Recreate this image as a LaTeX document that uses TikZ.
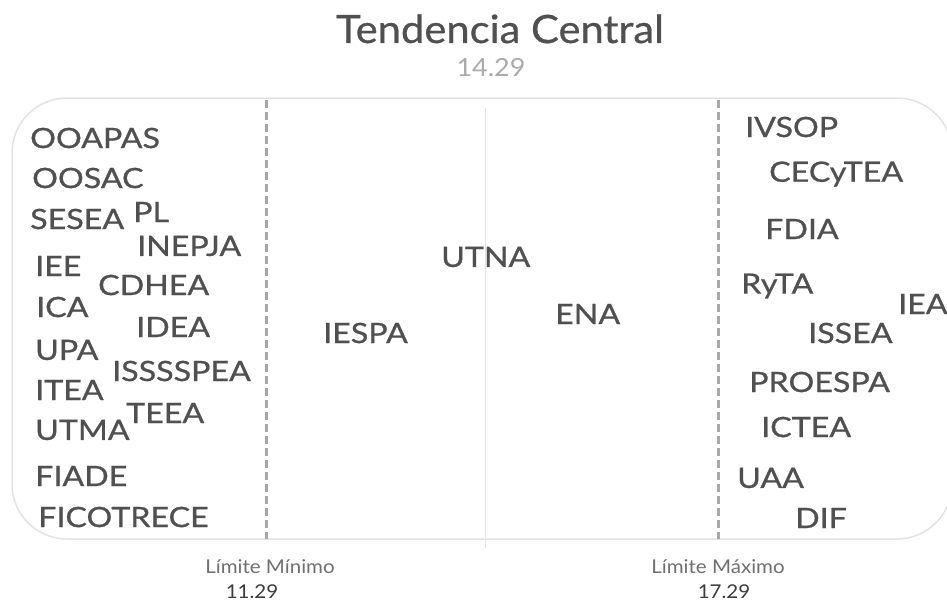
\documentclass[tikz,border=0pt]{standalone}
\usepackage{fontspec}
\setmainfont{Lato}
\newfontfamily\labfont[FakeBold=0.8,FakeStretch=1.15]{Lato}
\newfontfamily\titfont[FakeBold=0.6,FakeStretch=1.07]{Lato}
\newfontfamily\numfont[FakeStretch=1.08]{Lato}
\definecolor{labc}{HTML}{505050}
\definecolor{boxc}{HTML}{E3E3E3}
\definecolor{dashc}{HTML}{A8A8A8}
\definecolor{numc}{HTML}{ABABAB}
\definecolor{limc}{HTML}{707070}
\definecolor{limn}{HTML}{3C3C3C}
\tikzset{
  lab/.style={anchor=west, inner sep=0pt, text=labc, font=\labfont\fontsize{28}{28}\selectfont},
  limline/.style={dashc, line width=3pt, dash pattern=on 8pt off 4pt},
  limtxt/.style={anchor=base, inner sep=0pt, text=limc, font=\numfont\fontsize{19}{19}\selectfont},
  limnum/.style={anchor=base, inner sep=0pt, text=limn, font=\numfont\fontsize{19}{19}\selectfont},
}
\begin{document}
\begin{tikzpicture}[x=1pt,y=-1pt]
\useasboundingbox (0,0) rectangle (947,602);
\fill[white] (0,0) rectangle (947,602);
% frame
\draw[boxc, line width=1.5pt, rounded corners=55pt] (12,98) rectangle (952,539);
% centre line
\coordinate (ct) at (485,108);
\coordinate (cb) at (485,548);
\draw[boxc, line width=1pt] (ct) -- (cb);
% limit lines
\coordinate (lt) at (266,100);
\coordinate (lb) at (266,539);
\coordinate (rt) at (718,100);
\coordinate (rb) at (718,539);
\draw[limline] (lt) -- (lb);
\draw[limline] (rt) -- (rb);
% title
\node[anchor=base, inner sep=0pt, text=labc, font=\titfont\fontsize{39}{39}\selectfont] (title) at (500,43) {Tendencia Central};
\node[anchor=base, inner sep=0pt, text=numc, font=\numfont\fontsize{25}{25}\selectfont] (tc) at (491,77) {14.29};
% limit labels
\node[limtxt] (lmin) at (270,573) {Límite Mínimo};
\node[limnum] (lminv) at (252,598) {11.29};
\node[limtxt] (lmax) at (718,573) {Límite Máximo};
\node[limnum] (lmaxv) at (724,598) {17.29};
% left group
\node[lab] (n1) at (30,138) {OOAPAS};
\node[lab] (n2) at (32,178) {OOSAC};
\node[lab] (n3) at (30,219) {SESEA};
\node[lab] (n4) at (133,212) {PL};
\node[lab] (n5) at (137,246) {INEPJA};
\node[lab] (n6) at (35,266) {IEE};
\node[lab] (n7) at (98,285) {CDHEA};
\node[lab] (n8) at (36,307) {ICA};
\node[lab] (n9) at (136,327) {IDEA};
\node[lab] (n10) at (35,350) {UPA};
\node[lab] (n11) at (112,371) {ISSSSPEA};
\node[lab] (n12) at (35,390) {ITEA};
\node[lab] (n13) at (126,413) {TEEA};
\node[lab] (n14) at (35,430) {UTMA};
\node[lab] (n15) at (35,476) {FIADE};
\node[lab] (n16) at (38,517) {FICOTRECE};
% middle
\node[lab] (m1) at (441,257) {UTNA};
\node[lab] (m2) at (323,333) {IESPA};
\node[lab] (m3) at (555,314) {ENA};
% right group
\node[lab] (r1) at (745,127) {IVSOP};
\node[lab] (r2) at (769,174) {CECyTEA};
\node[lab] (r3) at (765,229) {FDIA};
\node[lab] (r4) at (741,286) {RyTA};
\node[lab] (r5) at (898,304) {IEA};
\node[lab] (r6) at (808,333) {ISSEA};
\node[lab] (r7) at (749,382) {PROESPA};
\node[lab] (r8) at (761,427) {ICTEA};
\node[lab] (r9) at (737,478) {UAA};
\node[lab] (r10) at (795,518) {DIF};
\end{tikzpicture}
\end{document}
